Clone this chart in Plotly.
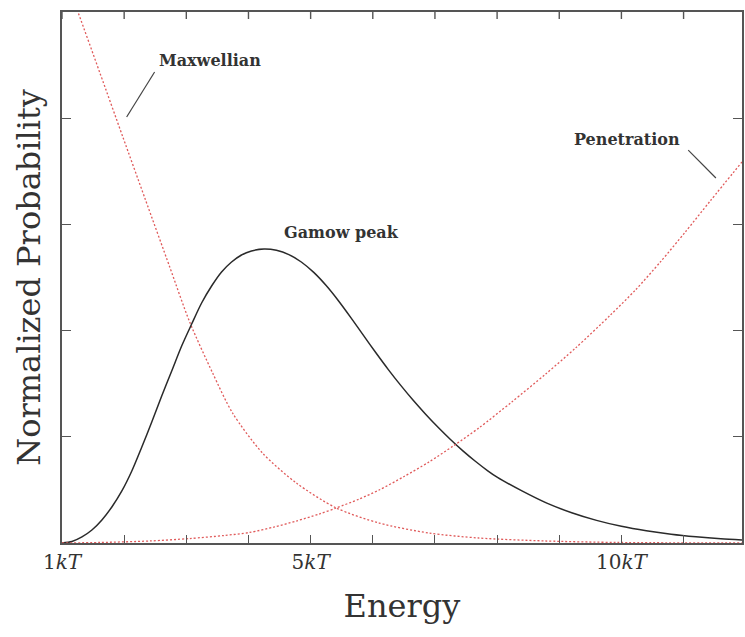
import plotly.graph_objects as go

# Energy in units of kT, normalized probability (arbitrary units)
maxwell_e = [1.0, 1.257, 1.61, 1.979, 2.332, 2.733, 3.054, 3.423, 3.744, 4.226,
             4.77, 5.412, 6.102, 6.904, 7.706, 8.781, 9.952, 11.94]
maxwell_p = [5.41, 5.0, 4.426, 3.823, 3.249, 2.599, 2.081, 1.601, 1.224, 0.847,
             0.565, 0.330, 0.188, 0.094, 0.047, 0.019, 0.005, 0.0]

penet_e = [1.0, 1.61, 2.412, 3.054, 3.615, 4.016, 4.417, 4.77, 5.139, 5.412, 5.781,
           6.102, 6.503, 6.904, 7.305, 7.706, 8.236, 8.781, 9.262, 9.824, 10.225,
           10.626, 11.027, 11.428, 11.94]
penet_p = [0.0, 0.005, 0.019, 0.042, 0.071, 0.099, 0.151, 0.207, 0.273, 0.330, 0.414,
           0.499, 0.626, 0.763, 0.918, 1.083, 1.328, 1.591, 1.836, 2.147, 2.382,
           2.646, 2.928, 3.22, 3.588]

gamow_e = [1.0, 1.16, 1.321, 1.481, 1.642, 1.802, 1.963, 2.123, 2.284, 2.444, 2.604,
           2.765, 2.925, 3.086, 3.246, 3.407, 3.567, 3.728, 3.888, 4.048, 4.25,
           4.45, 4.65, 4.85, 5.05, 5.25, 5.45, 5.65, 5.85, 6.05, 6.25, 6.45, 6.65,
           6.85, 7.05, 7.25, 7.45, 7.65, 7.85, 8.0, 8.4, 8.8, 9.2, 9.6, 10.0, 10.4,
           10.8, 11.2, 11.6, 11.94]
gamow_p = [0.0, 0.014, 0.057, 0.122, 0.217, 0.339, 0.490, 0.678, 0.904, 1.139, 1.384,
           1.620, 1.855, 2.062, 2.260, 2.420, 2.552, 2.646, 2.712, 2.750, 2.768,
           2.756, 2.716, 2.646, 2.548, 2.424, 2.279, 2.12, 1.955, 1.791, 1.633, 1.484,
           1.344, 1.213, 1.09, 0.975, 0.868, 0.770, 0.68, 0.62, 0.49, 0.375, 0.285,
           0.213, 0.157, 0.115, 0.082, 0.058, 0.04, 0.029]

energy_ticks = [1, 2, 3, 4, 5, 6, 7, 8, 9, 10, 11]
energy_labels = ["1<i>kT</i>", "", "", "", "5<i>kT</i>", "", "", "", "", "10<i>kT</i>", ""]
prob_ticks = [0, 1, 2, 3, 4, 5]
x_range = [1, 11.94]
y_range = [0, 5]

RED = "#e05a5a"
AXIS = "#555555"
SERIF = "DejaVu Serif"
PLOT_H = 637 - 12 - 94   # height of the plotting area in px
TOP_TICK = 7             # length of the top-edge ticks in px

fig = go.Figure()
dotted = dict(color=RED, width=1.3, dash="2px,2px", shape="spline", smoothing=0.8)
fig.add_trace(go.Scatter(x=maxwell_e, y=maxwell_p, mode="lines", line=dotted, showlegend=False))
# drawn against the right-hand twin axis so that it carries its own tick marks
fig.add_trace(go.Scatter(x=penet_e, y=penet_p, mode="lines", line=dotted, showlegend=False,
                         yaxis="y2"))
fig.add_trace(go.Scatter(x=gamow_e, y=gamow_p, mode="lines",
                         line=dict(color="#2a2a2a", width=1.5, shape="spline", smoothing=0.8),
                         showlegend=False))

label_font = dict(family=SERIF, size=16, color="#333333")
fig.add_annotation(x=2.524, y=4.548, text="<b>Maxwellian</b>", showarrow=False,
                   xanchor="left", yanchor="middle", font=label_font)
fig.add_annotation(x=4.546, y=2.928, text="<b>Gamow peak</b>", showarrow=False,
                   xanchor="left", yanchor="middle", font=label_font)
fig.add_annotation(x=9.198, y=3.795, text="<b>Penetration</b>", showarrow=False,
                   xanchor="left", yanchor="middle", font=label_font)

# leader lines from labels to their curves
fig.add_shape(type="line", x0=2.49, y0=4.435, x1=2.04, y1=4.011,
              line=dict(color="#444444", width=1.2))
fig.add_shape(type="line", x0=11.075, y0=3.70, x1=11.52, y1=3.437,
              line=dict(color="#444444", width=1.2))

# tick marks along the top edge, one per energy tick
for v in energy_ticks:
    fig.add_shape(type="line", xref="x", yref="paper", x0=v, x1=v,
                  y0=1, y1=1 - TOP_TICK / PLOT_H, line=dict(color=AXIS, width=1.4))

tick_style = dict(ticks="inside", tickwidth=1.4, tickcolor=AXIS, showgrid=False, zeroline=False)

fig.update_layout(
    width=745, height=637, margin=dict(l=62, r=1, t=12, b=94),
    paper_bgcolor="white", plot_bgcolor="white",
    xaxis=dict(range=x_range, tickmode="array", tickvals=energy_ticks, ticktext=energy_labels,
               ticklen=8, showline=True, linecolor=AXIS, linewidth=1.5, mirror=True,
               tickfont=dict(family=SERIF, size=20, color="#333333"),
               title=dict(text="Energy", font=dict(family=SERIF, size=32, color="#333333"), standoff=22),
               **tick_style),
    yaxis=dict(range=y_range, tickmode="array", tickvals=prob_ticks, showticklabels=False,
               ticklen=9, showline=True, linecolor=AXIS, linewidth=1.5, mirror=True,
               title=dict(text="Normalized Probability",
                          font=dict(family=SERIF, size=32, color="#333333"), standoff=10),
               **tick_style),
    yaxis2=dict(range=y_range, overlaying="y", side="right", anchor="x", tickmode="array",
                tickvals=prob_ticks, showticklabels=False, ticklen=9, showline=False,
                **tick_style),
)

fig.write_html("out.html")
